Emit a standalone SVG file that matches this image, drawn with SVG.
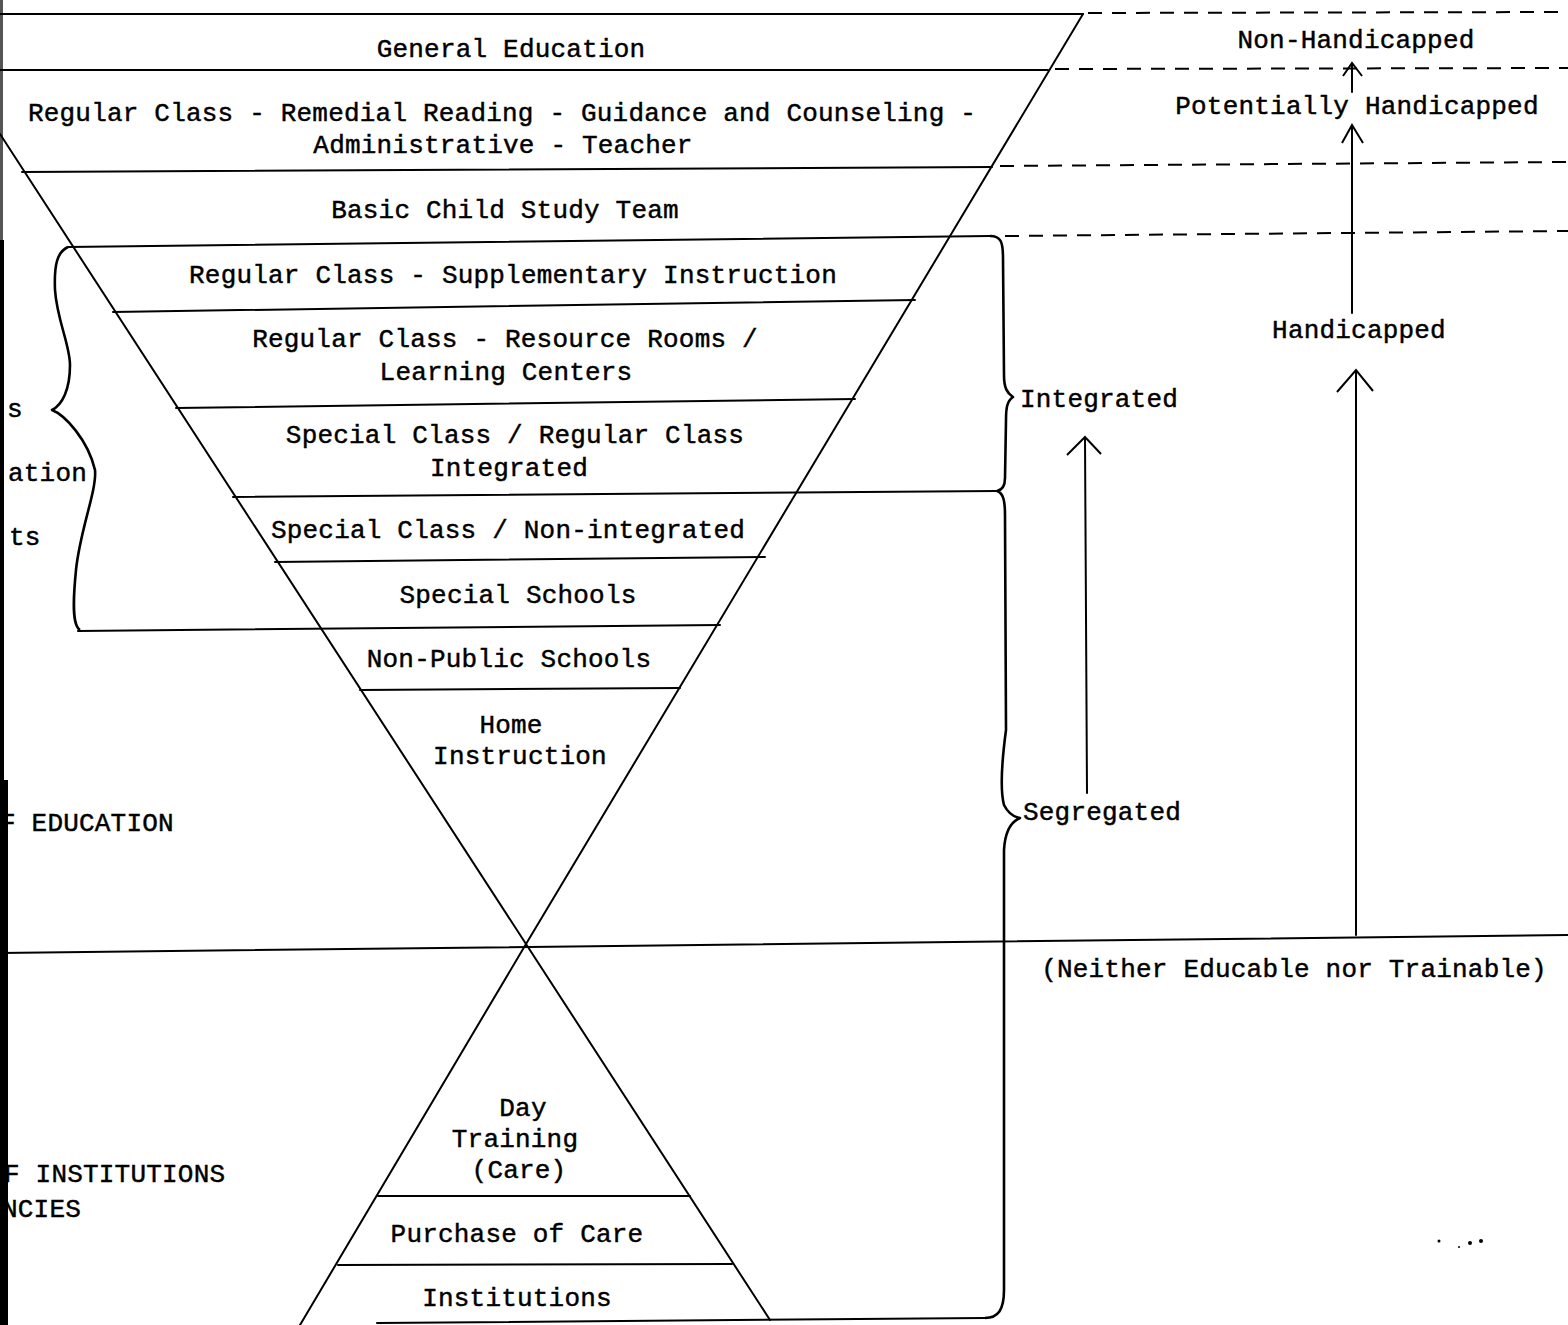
<svg xmlns="http://www.w3.org/2000/svg" width="1568" height="1325" viewBox="0 0 1568 1325">
<style>
.t{font-family:"Liberation Mono","Courier New",monospace;font-size:26px;letter-spacing:0.2px;fill:#000;stroke:#000;stroke-width:0.45}
.c{text-anchor:middle}
.ln{stroke:#000;stroke-width:2;fill:none;stroke-linecap:round}
.br{stroke:#000;stroke-width:2.6;fill:none;stroke-linejoin:round}
.ds{stroke:#000;stroke-width:2;fill:none;stroke-dasharray:14 10}
.ar{stroke:#000;stroke-width:2;fill:none;stroke-linejoin:miter}
</style>
<rect width="1568" height="1325" fill="#fff"/>
<g id="edge">
<rect x="0" y="0" width="3" height="240" fill="#555"/>
<rect x="0" y="240" width="4" height="540" fill="#000"/>
<rect x="0" y="780" width="8" height="545" fill="#000"/>
</g>
<g id="connectors">
<line class="ln" x1="0" y1="134" x2="526" y2="944"/>
<line class="ln" x1="1083" y1="14" x2="526" y2="944"/>
<line class="ln" x1="526" y1="944" x2="300" y2="1325"/>
<line class="ln" x1="526" y1="944" x2="770" y2="1320"/>
<line class="ln" x1="0" y1="14" x2="1083" y2="14"/>
<line class="ln" x1="0" y1="70" x2="1048" y2="70"/>
<line class="ln" x1="22" y1="172" x2="992" y2="167"/>
<line class="ln" x1="68" y1="247" x2="990" y2="236"/>
<line class="ln" x1="113" y1="312" x2="915" y2="300"/>
<line class="ln" x1="176" y1="408" x2="855" y2="399"/>
<line class="ln" x1="233" y1="497" x2="997" y2="491"/>
<line class="ln" x1="275" y1="562" x2="765" y2="557"/>
<line class="ln" x1="78" y1="631" x2="720" y2="625"/>
<line class="ln" x1="360" y1="690" x2="680" y2="688"/>
<line class="ln" x1="0" y1="953" x2="1568" y2="935"/>
<line class="ln" x1="378" y1="1196" x2="690" y2="1196"/>
<line class="ln" x1="338" y1="1265" x2="732" y2="1264"/>
<line class="ln" x1="377" y1="1323" x2="985" y2="1318"/>
<line class="ds" x1="1088" y1="13" x2="1568" y2="12"/>
<line class="ds" x1="1055" y1="69" x2="1568" y2="68"/>
<line class="ds" x1="1000" y1="166" x2="1568" y2="162"/>
<line class="ds" x1="1005" y1="236" x2="1568" y2="231"/>
<path class="br" d="M68,247 C57,252 54,265 55,290 C57,320 70,345 70,365 C70,390 62,405 52,410 C65,415 88,440 95,470 C97,490 80,530 76,570 C73,600 72,625 80,630"/>
<path class="br" d="M990,236 C1001,236 1003,242 1003,258 L1004,375 C1004,388 1007,393 1013,397 C1007,401 1006,408 1006,420 L1005,478 C1005,486 1002,490 997,491 C1003,493 1005,500 1005,515 L1006,730 C1002,760 1000,790 1004,805 C1008,813 1014,817 1020,818 C1010,822 1005,832 1004,850 L1004,1290 C1004,1310 998,1318 985,1318"/>
<line class="ln" x1="1087" y1="793" x2="1085" y2="438"/>
<polyline class="ar" points="1067,455 1085,437 1101,454"/>
<line class="ln" x1="1356" y1="935" x2="1356" y2="371"/>
<polyline class="ar" points="1337,392 1356,370 1373,391"/>
<line class="ln" x1="1352" y1="313" x2="1352" y2="126"/>
<polyline class="ar" points="1342,143 1352,125 1363,143"/>
<line class="ln" x1="1352" y1="92" x2="1352" y2="64"/>
<polyline class="ar" points="1343,76 1352,63 1362,76"/>
</g>
<g id="n-general"><text class="t c" x="511" y="57">General Education</text></g>
<g id="n-regular"><text class="t c" x="502" y="121">Regular Class - Remedial Reading - Guidance and Counseling -</text><text class="t c" x="503" y="153">Administrative - Teacher</text></g>
<g id="n-basic"><text class="t c" x="505" y="218">Basic Child Study Team</text></g>
<g id="n-supp"><text class="t c" x="513" y="283">Regular Class - Supplementary Instruction</text></g>
<g id="n-resource"><text class="t c" x="505" y="347">Regular Class - Resource Rooms /</text><text class="t c" x="506" y="380">Learning Centers</text></g>
<g id="n-specint"><text class="t c" x="515" y="443">Special Class / Regular Class</text><text class="t c" x="509" y="476">Integrated</text></g>
<g id="n-specnon"><text class="t c" x="508" y="538">Special Class / Non-integrated</text></g>
<g id="n-specsch"><text class="t c" x="518" y="603">Special Schools</text></g>
<g id="n-nonpub"><text class="t c" x="509" y="667">Non-Public Schools</text></g>
<g id="n-home"><text class="t c" x="511" y="733">Home</text><text class="t c" x="520" y="764">Instruction</text></g>
<g id="n-day"><text class="t c" x="523" y="1116">Day</text><text class="t c" x="515" y="1147">Training</text><text class="t c" x="519" y="1178">(Care)</text></g>
<g id="n-purchase"><text class="t c" x="517" y="1242">Purchase of Care</text></g>
<g id="n-inst"><text class="t c" x="517" y="1306">Institutions</text></g>
<g id="left-labels">
<text class="t" x="7" y="417">s</text>
<text class="t" x="8" y="481">ation</text>
<text class="t" x="9" y="545">ts</text>
<text class="t" x="0" y="831">F EDUCATION</text>
<text class="t" x="4" y="1182">F INSTITUTIONS</text>
<text class="t" x="2" y="1217">NCIES</text>
</g>
<g id="right-labels">
<text class="t c" x="1356" y="48">Non-Handicapped</text>
<text class="t c" x="1357" y="114">Potentially Handicapped</text>
<text class="t c" x="1359" y="338">Handicapped</text>
<text class="t" x="1020" y="407">Integrated</text>
<text class="t" x="1023" y="820">Segregated</text>
<text class="t c" x="1294" y="977">(Neither Educable nor Trainable)</text>
</g>
<g id="specks" fill="#000">
<circle cx="1439" cy="1241" r="1.5"/>
<circle cx="1459" cy="1247" r="1"/>
<circle cx="1470" cy="1243" r="2"/>
<circle cx="1481" cy="1241" r="2"/>
</g>
</svg>
